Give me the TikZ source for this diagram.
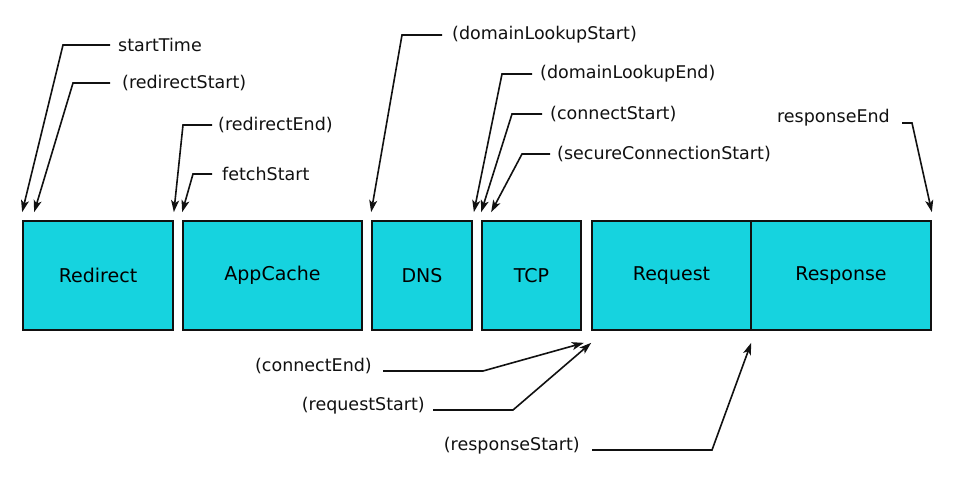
\documentclass[tikz,border=0pt]{standalone}
\usepackage{fontspec}
\setmainfont{DejaVu Sans}
\usepackage{xcolor}
\usetikzlibrary{arrows.meta,calc}
\definecolor{cyanbox}{HTML}{16D3DF}
\definecolor{ink}{HTML}{111111}
\tikzset{
  arr/.style={-{Stealth[length=12pt,width=8pt,inset=3pt]}, line width=1.6pt, color=ink},
  phase/.style={draw=ink, fill=cyanbox, line width=1.7pt, minimum height=109pt,
                inner sep=0pt, font=\fontsize{19}{22}\selectfont},
  lbl/.style={inner sep=0pt, text=ink, font=\fontsize{17.5}{20}\selectfont},
}

\begin{document}
\begin{tikzpicture}[x=1pt,y=-1pt]
  \useasboundingbox[fill=white] (0,0) rectangle (960,500);

  % phase boxes, left to right
  \node[phase, minimum width=150pt] (redir) at (98,275.5)   {Redirect};
  \node[phase, minimum width=179pt] (cache) at (272.5,275.5) {AppCache};
  \node[phase, minimum width=100pt] (dns)   at (422,275.5)   {DNS};
  \node[phase, minimum width=99pt]  (tcp)   at (531.5,275.5) {TCP};
  \node[phase, minimum width=159pt] (req)   at (671.5,275.5) {Request};
  \node[phase, minimum width=180pt] (resp)  at (841,275.5)   {Response};

  % marks above the boxes
  \node[lbl, anchor=west] (stime)  at (118,45)  {startTime};
  \node[lbl, anchor=west] (rstart) at (122,83)  {(redirectStart)};
  \node[lbl, anchor=west] (rend)   at (218,125) {(redirectEnd)};
  \node[lbl, anchor=west] (fstart) at (222,174) {fetchStart};
  \node[lbl, anchor=west] (dlstart) at (452,35) {(domainLookupStart)};
  \node[lbl, anchor=west] (dlend)  at (540,74)  {(domainLookupEnd)};
  \node[lbl, anchor=west] (cstart) at (550,114) {(connectStart)};
  \node[lbl, anchor=west] (scstart) at (557,154) {(secureConnectionStart)};
  \node[lbl, anchor=base east] (rspend) at (890,123) {responseEnd};

  \draw[arr] ([xshift=-8pt]stime.west)   -- ++(-47,0) -- ([yshift=8pt]redir.north west);
  \draw[arr] ([xshift=-12pt]rstart.west) -- ++(-37,0) -- ([shift={(12pt,8pt)}]redir.north west);
  \draw[arr] ([xshift=-6pt]rend.west)    -- ++(-29,0) -- ([yshift=8pt]redir.north east);
  \draw[arr] ([xshift=-10pt]fstart.west) -- ++(-19,0) -- ([yshift=8pt]cache.north west);
  \draw[arr] ([xshift=-10pt]dlstart.west) -- ++(-40,0) -- ([yshift=8pt]dns.north west);
  \draw[arr] ([xshift=-8pt]dlend.west)   -- ++(-30,0) -- ([shift={(1pt,8pt)}]dns.north east);
  \draw[arr] ([xshift=-8pt]cstart.west)  -- ++(-30,0) -- ([yshift=8pt]tcp.north west);
  \draw[arr] ([xshift=-7pt]scstart.west) -- ++(-28,0) -- ([shift={(10pt,8pt)}]tcp.north west);
  \draw[arr] ([xshift=12pt]rspend.base east) -- ++(10,0) -- ([yshift=8pt]resp.north east);

  % marks below the boxes
  \node[lbl, anchor=base east] (cend)   at (372,371) {(connectEnd)};
  \node[lbl, anchor=base east] (rqstart) at (425,410) {(requestStart)};
  \node[lbl, anchor=base east] (rsstart) at (580,450) {(responseStart)};

  \draw[arr] ([xshift=11pt]cend.base east)    -- ++(100,0) -- ([shift={(2pt,-12pt)}]tcp.south east);
  \draw[arr] ([xshift=8pt]rqstart.base east)  -- ++(80,0)  -- ([yshift=-12pt]req.south west);
  \draw[arr] ([xshift=12pt]rsstart.base east) -- ++(120,0) -- ([shift={(1pt,-12pt)}]resp.south west);
\end{tikzpicture}
\end{document}
